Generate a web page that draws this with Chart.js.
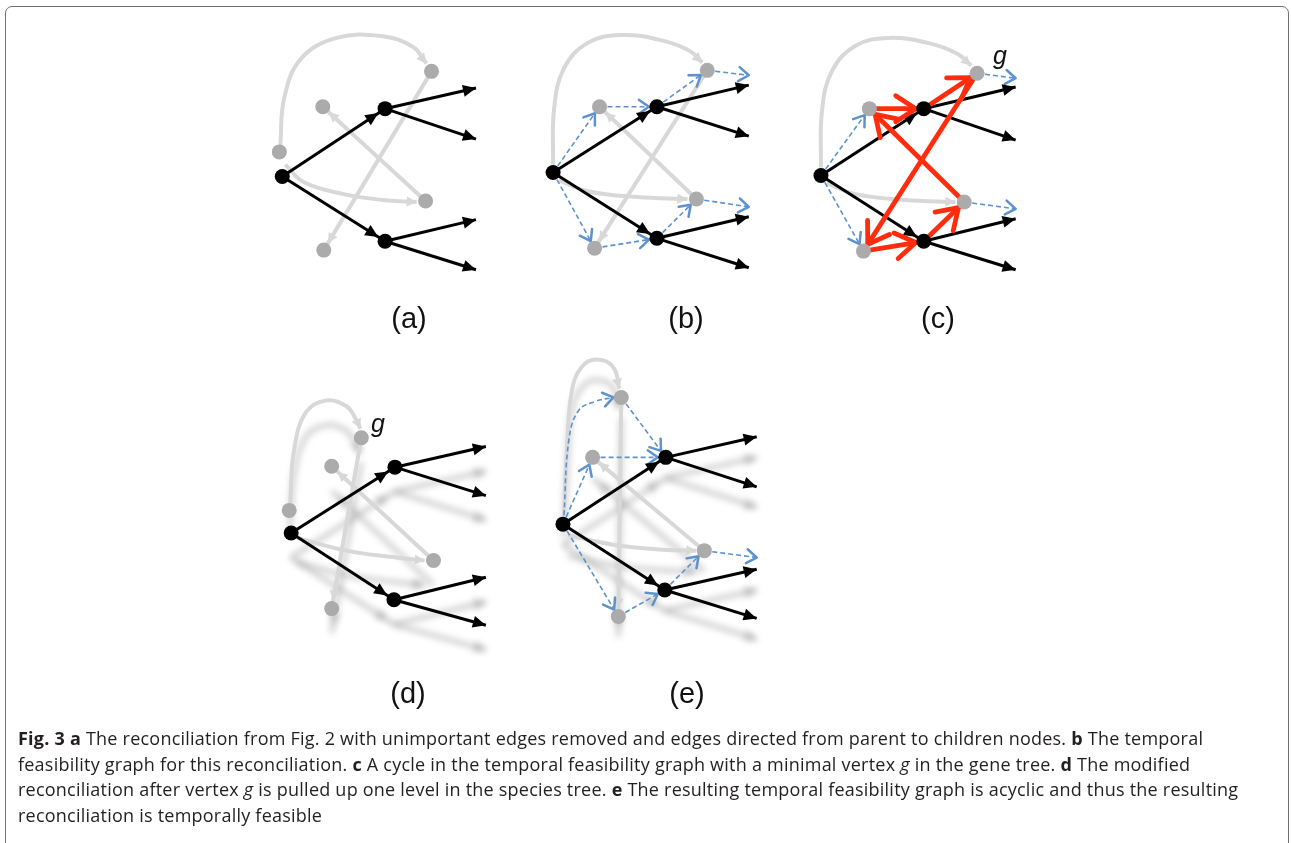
<!DOCTYPE html>
<html>
<head>
<meta charset="utf-8">
<script src="https://cdn.jsdelivr.net/npm/chart.js@4.4.1/dist/chart.umd.min.js"></script>
<style>
    html, body { margin: 0; padding: 0; background: #fff; }
    body { width: 1291px; height: 843px; position: relative; overflow: hidden; font-family: "Liberation Sans", Arial, sans-serif; }
    #frame { position: absolute; left: 5px; top: 6px; width: 1282px; height: 900px; border: 1.5px solid #707070; border-radius: 7px; }
    #graph { position: absolute; left: 0; top: 0; }
    .lbl { position: absolute; font-size: 29px; color: #111; transform: translate(-50%, -50%); }
    .g { position: absolute; font-style: italic; font-size: 25px; color: #111; transform: translate(-50%, -50%); }
    #caption { position: absolute; left: 18px; top: 726px; font-family: "Open Sans", sans-serif; font-size: 18px; line-height: 25.7px; color: #231f20; white-space: nowrap; letter-spacing: 0.23px; }
    #caption b { font-weight: 700; }
</style>
</head>
<body>
<div id="frame"></div>
<canvas id="graph" width="1291" height="843"></canvas>
<div class="lbl" style="left:409px;top:318px">(a)</div>
<div class="lbl" style="left:686px;top:318px">(b)</div>
<div class="lbl" style="left:938px;top:318px">(c)</div>
<div class="lbl" style="left:408px;top:693px">(d)</div>
<div class="lbl" style="left:687px;top:693px">(e)</div>
<div class="g" style="left:1000px;top:55px">g</div>
<div class="g" style="left:378px;top:423px">g</div>
<div id="caption"><b>Fig. 3 a</b> The reconciliation from Fig. 2 with unimportant edges removed and edges directed from parent to children nodes. <b>b</b> The temporal<br>feasibility graph for this reconciliation. <b>c</b> A cycle in the temporal feasibility graph with a minimal vertex <i>g</i> in the gene tree. <b>d</b> The modified<br>reconciliation after vertex <i>g</i> is pulled up one level in the species tree. <b>e</b> The resulting temporal feasibility graph is acyclic and thus the resulting<br>reconciliation is temporally feasible</div>
<script>
// nodes of every panel: upper case = species tree (black), lower case = gene tree (gray)
const nodesA = { R: [278, 172], U: [382, 103], L: [382, 238], p: [275, 147], m: [319, 101], t: [429, 65], q: [423, 197], b: [320, 247] };
const nodesB = { R: [552, 168], U: [657, 101], L: [657, 235], m: [599, 101], t: [708, 64], q: [697, 195], b: [594, 245] };
const nodesC = { R: [823, 171], U: [927, 103], L: [927, 238], m: [872, 103], g: [981, 67], q: [968, 198], b: [866, 248] };
const nodesD = { R: [287, 535], U: [392, 468], L: [391, 603], g: [358, 438], m: [328, 467], p: [285, 512], q: [431, 563], b: [328, 612] };
const nodesE = { R: [562, 526], U: [666, 458], L: [665, 593], t: [621, 397], m: [592, 458], q: [705, 553], b: [618, 620] };

// edges: [from, to], a name or a free end point
const blackA = [['R', 'U'], ['R', 'L'], ['U', [474, 82]], ['U', [474, 134]], ['L', [474, 216]], ['L', [474, 267]]];
const blackB = [['R', 'U'], ['R', 'L'], ['U', [750, 79]], ['U', [750, 131]], ['L', [750, 213]], ['L', [750, 265]]];
const blackC = [['R', 'U'], ['R', 'L'], ['U', [1020, 81]], ['U', [1020, 135]], ['L', [1020, 215]], ['L', [1020, 267]]];
const blackD = [['R', 'U'], ['R', 'L'], ['U', [484, 447]], ['U', [484, 497]], ['L', [484, 580]], ['L', [484, 629]]];
const blackE = [['R', 'U'], ['R', 'L'], ['U', [758, 437]], ['U', [758, 488]], ['L', [758, 572]], ['L', [758, 622]]];

const grayA = [['q', 'm'], ['t', 'b']];
const grayB = [['q', 'm'], ['t', 'b']];
const grayC = [];
const grayD = [['q', 'm'], ['g', 'b']];
const grayE = [['q', 'm'], ['t', 'b']];

// curved gray edges, as points along the curve
const arcsA = [[[276, 140], [280, 92], [297, 52], [333, 31], [378, 29], [410, 40], [424, 57]], [[281, 160], [300, 178], [340, 190], [380, 196], [414, 198]]];
const arcsB = [[[552, 160], [553, 103], [563, 62], [587, 36], [620, 28], [660, 33], [690, 44], [703, 56]], [[558, 176], [587, 187], [637, 193], [688, 195]]];
const arcsC = [[[823, 163], [824, 106], [834, 65], [858, 39], [891, 31], [931, 36], [961, 47], [975, 59]], [[829, 179], [858, 190], [908, 196], [959, 198]]];
const arcsD = [[[286, 505], [290, 450], [302, 412], [323, 400], [343, 406], [353, 420], [357, 429]], [[293, 540], [343, 553], [393, 560], [422, 563]]];
const arcsE = [[[563, 518], [566, 450], [572, 385], [585, 362], [602, 359], [614, 368], [619, 388]], [[567, 537], [613, 547], [663, 552], [697, 553]]];

// temporal feasibility edges (blue dashed) and the cycle (red)
const blueB = [['R', 'm'], ['m', 'U'], ['U', 't'], ['t', [750, 69]], ['R', 'b'], ['b', 'L'], ['L', 'q'], ['q', [750, 203]]];
const blueC = [['R', 'm'], ['R', 'b'], ['g', [1020, 72]], ['q', [1020, 205]]];
const blueE = [['m', 'U'], ['t', 'U'], ['R', 'm'], ['R', 'b'], ['b', 'L'], ['L', 'q'], ['q', [758, 560]]];
const blueArcE = [[[563, 517], [568, 440], [578, 410], [595, 401], [613, 397]]];
const redC = [['m', 'U'], ['U', 'g'], ['g', 'b'], ['b', 'L'], ['L', 'q'], ['q', 'm']];

// blurred shadow below panels d and e
const ghostShiftD = 25;
const ghostShiftE = 21;

document.addEventListener('DOMContentLoaded', function () {

    const styleGray = { borderColor: '#d8d8d8', borderWidth: 4, arrow: 'tri', head: [10, 5], order: 5 };
    const styleBlack = { borderColor: '#000', borderWidth: 3, arrow: 'tri', head: [13, 6], order: 2 };
    const styleBlue = { borderColor: '#5d92cf', borderWidth: 1.6, borderDash: [5, 3], arrow: 'open', head: [10, 7], headWidth: 2.5, order: 3 };
    const styleRed = { borderColor: '#ff2d0d', borderWidth: 4.8, arrow: 'open', head: [20, 13], headWidth: 4.8, order: 1 };
    const styleGhost = { borderColor: 'rgba(150,150,150,0.45)', borderWidth: 5, arrow: 'tri', head: [12, 6], blur: 3, order: 6 };

    const datasets = [];

    function pos(nodes, k) {
        return typeof k === 'string' ? nodes[k] : k;
    }

    // straight edges
    function addEdges(nodes, list, style, dy) {
        list.forEach(function (e) {
            const a = pos(nodes, e[0]);
            const b = pos(nodes, e[1]);
            datasets.push(Object.assign({
                showLine: true, pointRadius: 0, tension: 0,
                gap: typeof e[1] === 'string' ? 8 : 0,
                data: [{ x: a[0], y: a[1] + dy }, { x: b[0], y: b[1] + dy }]
            }, style));
        });
    }

    // curved edges
    function addArcs(list, style, dy) {
        list.forEach(function (p) {
            datasets.push(Object.assign({
                showLine: true, pointRadius: 0, tension: 0.4, gap: 0,
                data: p.map(function (q) { return { x: q[0], y: q[1] + dy }; })
            }, style));
        });
    }

    // node dots
    function addNodes(nodes) {
        const keys = Object.keys(nodes);
        const black = keys.filter(function (k) { return k === k.toUpperCase(); });
        const gray = keys.filter(function (k) { return k !== k.toUpperCase(); });
        [[black, '#000'], [gray, '#ababab']].forEach(function (s) {
            datasets.push({
                showLine: false, pointRadius: 7.5, borderWidth: 0, order: 0,
                backgroundColor: s[1],
                data: s[0].map(function (k) { return { x: nodes[k][0], y: nodes[k][1] }; })
            });
        });
    }

    [[nodesA, blackA, grayA, arcsA], [nodesB, blackB, grayB, arcsB], [nodesC, blackC, grayC, arcsC],
     [nodesD, blackD, grayD, arcsD], [nodesE, blackE, grayE, arcsE]].forEach(function (p) {
        addEdges(p[0], p[1], styleBlack, 0);
        addEdges(p[0], p[2], styleGray, 0);
        addArcs(p[3], styleGray, 0);
        addNodes(p[0]);
    });

    // shadows of the old graph in d and e
    addEdges(nodesD, blackD, styleGhost, ghostShiftD);
    addEdges(nodesD, grayD, styleGhost, ghostShiftD);
    addArcs(arcsD, styleGhost, ghostShiftD);
    addEdges(nodesE, blackE, styleGhost, ghostShiftE);
    addEdges(nodesE, grayE, styleGhost, ghostShiftE);
    addArcs(arcsE, styleGhost, ghostShiftE);

    addEdges(nodesB, blueB, styleBlue, 0);
    addEdges(nodesC, blueC, styleBlue, 0);
    addEdges(nodesE, blueE, styleBlue, 0);
    addArcs(blueArcE, styleBlue, 0);
    addEdges(nodesC, redC, styleRed, 0);

    // arrow heads at the end of each edge
    const arrowHeads = {
        id: 'arrowHeads',
        beforeDatasetDraw(chart, args) {
            const ds = chart.data.datasets[args.index];
            chart.ctx.save();
            if (ds.blur) chart.ctx.filter = 'blur(' + ds.blur + 'px)';
        },
        afterDatasetDraw(chart, args) {
            const ds = chart.data.datasets[args.index];
            const ctx = chart.ctx;
            const pts = args.meta.data;
            if (ds.arrow && pts.length > 1) {
                const a = pts[pts.length - 2];
                const b = pts[pts.length - 1];
                const ang = Math.atan2(b.y - a.y, b.x - a.x);
                const len = ds.head[0];
                const half = ds.head[1];
                ctx.translate(b.x - ds.gap * Math.cos(ang), b.y - ds.gap * Math.sin(ang));
                ctx.rotate(ang);
                ctx.setLineDash([]);
                ctx.beginPath();
                ctx.moveTo(-len, -half);
                ctx.lineTo(0, 0);
                ctx.lineTo(-len, half);
                if (ds.arrow === 'tri') {
                    ctx.closePath();
                    ctx.fillStyle = ds.borderColor;
                    ctx.fill();
                } else {
                    ctx.lineWidth = ds.headWidth;
                    ctx.strokeStyle = ds.borderColor;
                    ctx.lineCap = 'round';
                    ctx.lineJoin = 'round';
                    ctx.stroke();
                }
            }
            ctx.restore();
        }
    };

    new Chart(document.getElementById('graph'), {
        type: 'scatter',
        data: { datasets: datasets },
        options: {
            responsive: false,
            animation: false,
            events: [],
            layout: { padding: 0 },
            scales: {
                x: { type: 'linear', min: 0, max: 1291, display: false },
                y: { type: 'linear', min: 0, max: 843, reverse: true, display: false }
            },
            plugins: {
                legend: { display: false },
                tooltip: { enabled: false }
            }
        },
        plugins: [arrowHeads]
    });

});
</script>
</body>
</html>
